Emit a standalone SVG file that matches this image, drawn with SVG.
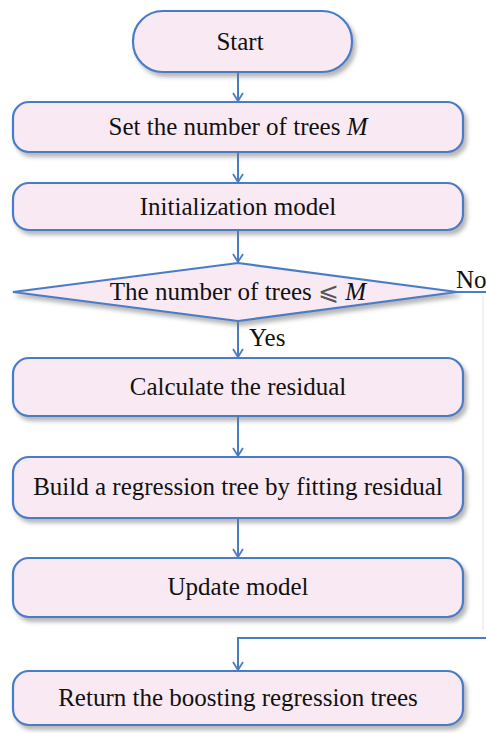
<svg xmlns="http://www.w3.org/2000/svg" width="486" height="733" viewBox="0 0 486 733">
  <defs>
    <filter id="shadow" x="-10%" y="-20%" width="125%" height="150%">
      <feDropShadow dx="3" dy="4" stdDeviation="2" flood-color="#7a7a7a" flood-opacity="0.55"/>
    </filter>
    <!-- open V arrowhead, drawn along +x so orient="auto" follows the line -->
    <marker id="arrow" viewBox="0 0 12 12" refX="11" refY="6" markerWidth="12" markerHeight="12" markerUnits="userSpaceOnUse" orient="auto">
      <path d="M3,1 L11,6 L3,11" fill="none" stroke="#4a7cc6" stroke-width="1.8"/>
    </marker>
    <style>
      .box { fill: #f9e9f3; stroke: #4a7cc6; stroke-width: 2.2; filter: url(#shadow); }
      .lbl { font-family: "Liberation Serif", "DejaVu Serif", "Times New Roman", serif; font-size: 25px; fill: #111111; text-anchor: middle; }
      .side { font-family: "Liberation Serif", "Times New Roman", serif; font-size: 25px; fill: #111111; }
      .conn { fill: none; stroke: #4a7cc6; stroke-width: 2; }
      .conn-arrow { marker-end: url(#arrow); }
    </style>
  </defs>
  <rect width="486" height="733" fill="#ffffff"/>

  <!-- connectors -->
  <g id="connectors">
    <path class="conn conn-arrow" d="M238,72 L238,101"/>
    <path class="conn conn-arrow" d="M238,152 L238,182"/>
    <path class="conn conn-arrow" d="M238,230 L238,262"/>
    <path class="conn conn-arrow" d="M238,321 L238,357"/>
    <path class="conn conn-arrow" d="M238,416 L238,456"/>
    <path class="conn conn-arrow" d="M238,518 L238,557"/>
    <path class="conn" d="M457,292 L486,292"/>
    <path d="M483,296 L483,630" fill="none" stroke="#e4e4ea" stroke-width="1"/>
    <path class="conn conn-arrow" d="M486,638 L238,638 L238,670"/>
    <text class="side" x="456" y="288">No</text>
    <text class="side" x="249" y="346">Yes</text>
  </g>

  <g id="start">
    <rect class="box" x="133" y="11" width="219" height="61" rx="30" ry="30"/>
    <text class="lbl" x="240" y="50">Start</text>
  </g>

  <g id="set-trees">
    <rect class="box" x="13" y="102" width="450" height="50" rx="16" ry="16"/>
    <text class="lbl" x="238" y="135">Set the number of trees <tspan font-style="italic">M</tspan></text>
  </g>

  <g id="init-model">
    <rect class="box" x="13" y="183" width="450" height="47" rx="16" ry="16"/>
    <text class="lbl" x="238" y="215">Initialization model</text>
  </g>

  <g id="check-trees">
    <polygon class="box" points="238,263 457,292 238,321 13,292"/>
    <text class="lbl" x="238" y="300">The number of trees <tspan fill="#555555">⩽</tspan> <tspan font-style="italic">M</tspan></text>
  </g>

  <g id="calc-residual">
    <rect class="box" x="13" y="358" width="450" height="58" rx="16" ry="16"/>
    <text class="lbl" x="238" y="395">Calculate the residual</text>
  </g>

  <g id="build-tree">
    <rect class="box" x="13" y="457" width="450" height="61" rx="16" ry="16"/>
    <text class="lbl" x="238" y="495">Build a regression tree by fitting residual</text>
  </g>

  <g id="update-model">
    <rect class="box" x="13" y="558" width="450" height="59" rx="16" ry="16"/>
    <text class="lbl" x="238" y="595">Update model</text>
  </g>

  <g id="return-trees">
    <rect class="box" x="13" y="671" width="450" height="54" rx="16" ry="16"/>
    <text class="lbl" x="238" y="706">Return the boosting regression trees</text>
  </g>
</svg>
